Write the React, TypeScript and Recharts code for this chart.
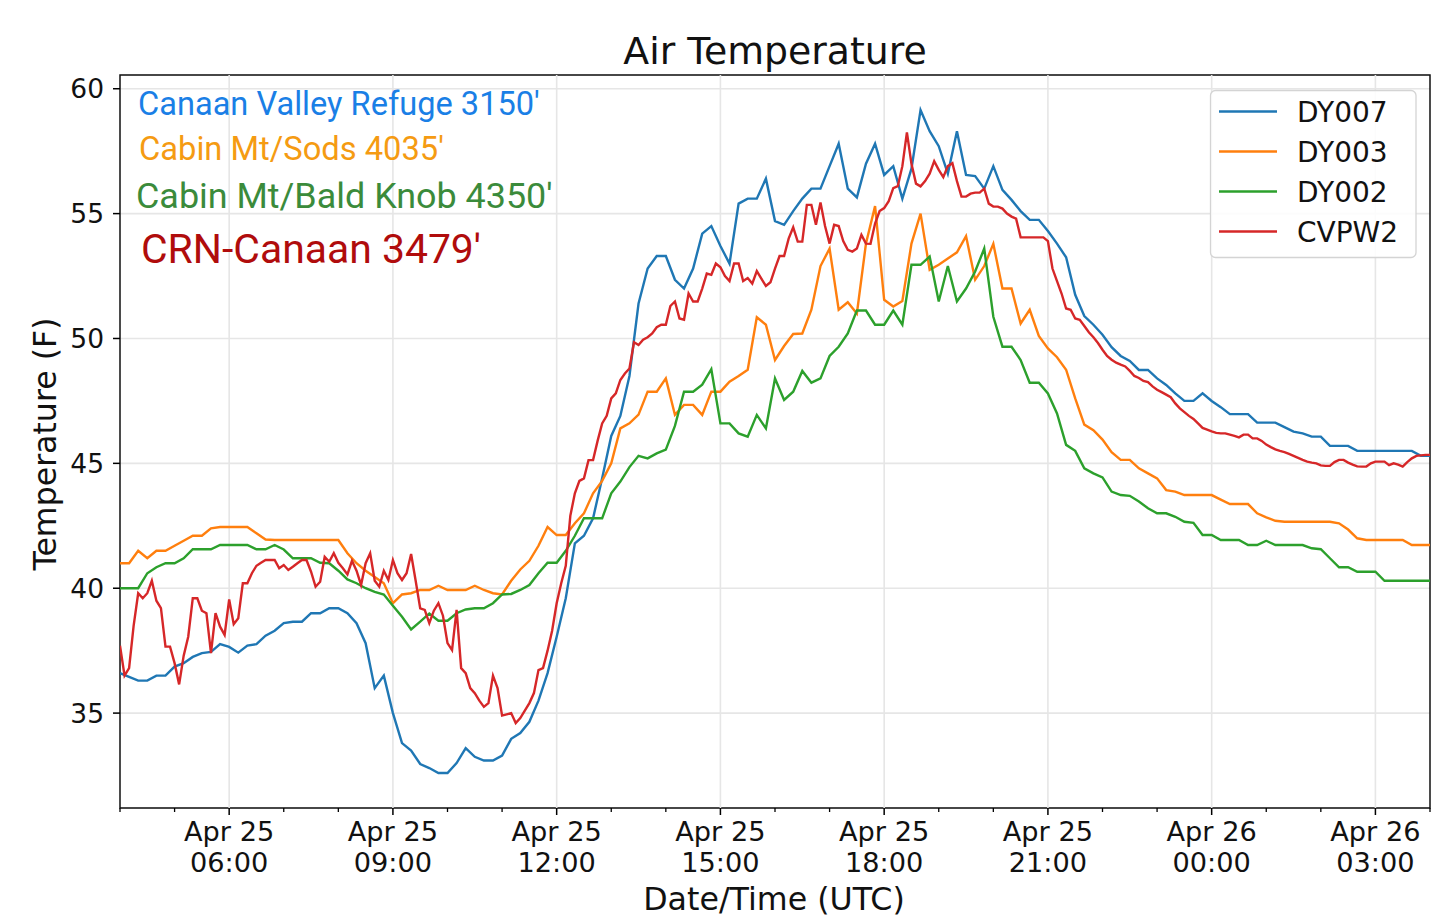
import React from 'react';
import {
  LineChart,
  Line,
  XAxis,
  YAxis,
  CartesianGrid,
  ReferenceLine,
  ReferenceArea,
} from 'recharts';

// minutes after Apr 25 04:00 UTC
const DY_STEP = 10;
const CV_STEP = 5;

// DY stations, 10-minute readings (F)
const dy007 = [
  36.6, 36.45, 36.3, 36.3, 36.5, 36.5, 36.86, 37.0, 37.25, 37.4, 37.45, 37.76, 37.65, 37.42, 37.7, 37.76,
  38.1, 38.3, 38.6, 38.66, 38.66, 39.0, 39.0, 39.2, 39.2, 39.0, 38.6, 37.8, 36.0, 36.5, 35.0, 33.8,
  33.5, 32.96, 32.8, 32.6, 32.6, 33.0, 33.6, 33.25, 33.1, 33.1, 33.3, 33.97, 34.2, 34.65, 35.5, 36.6,
  38.06, 39.6, 41.8, 42.1, 42.8, 44.4, 46.1, 46.9, 48.5, 51.4, 52.8, 53.3, 53.3, 52.35, 52.0, 52.8,
  54.2, 54.5, 53.7, 53.0, 55.4, 55.6, 55.6, 56.4, 54.7, 54.55, 55.1, 55.6, 56.0, 56.0, 56.9, 57.8,
  56.0, 55.65, 57.0, 57.8, 56.55, 56.9, 55.6, 56.8, 59.15, 58.3, 57.7, 56.6, 58.3, 56.55, 56.5, 56.0,
  56.9, 55.95, 55.55, 55.1, 54.75, 54.75, 54.3, 53.8, 53.25, 51.75, 50.9, 50.55, 50.15, 49.65, 49.3, 49.1,
  48.74, 48.74, 48.4, 48.14, 47.8, 47.5, 47.5, 47.8, 47.5, 47.25, 46.97, 46.97, 46.97, 46.63, 46.63, 46.63,
  46.45, 46.27, 46.2, 46.07, 46.07, 45.7, 45.7, 45.7, 45.5, 45.5, 45.5, 45.5, 45.5, 45.5, 45.5, 45.3,
  45.3,
];

const dy003 = [
  41.0, 41.0, 41.5, 41.2, 41.5, 41.5, 41.7, 41.9, 42.1, 42.1, 42.4, 42.45, 42.45, 42.45, 42.45, 42.2,
  41.95, 41.93, 41.93, 41.93, 41.93, 41.93, 41.93, 41.93, 41.93, 41.4, 41.0, 40.7, 40.45, 40.2, 39.4, 39.75,
  39.8, 39.93, 39.93, 40.1, 39.93, 39.93, 39.93, 40.1, 39.93, 39.8, 39.75, 40.3, 40.75, 41.1, 41.7, 42.45,
  42.13, 42.13, 42.6, 43.0, 43.8, 44.3, 45.0, 46.4, 46.6, 46.95, 47.87, 47.87, 48.4, 46.94, 47.34, 47.34,
  46.94, 47.87, 47.87, 48.27, 48.5, 48.75, 50.85, 50.55, 49.14, 49.7, 50.18, 50.2, 51.15, 52.9, 53.6, 51.15,
  51.45, 51.0, 53.8, 55.3, 51.55, 51.28, 51.5, 53.8, 55.0, 52.75, 52.95, 53.2, 53.45, 54.1, 52.35, 52.9,
  53.79, 52.0, 52.0, 50.6, 51.15, 50.1, 49.6, 49.25, 48.75, 47.6, 46.55, 46.33, 45.95, 45.45, 45.14, 45.14,
  44.8, 44.6, 44.4, 43.93, 43.87, 43.73, 43.73, 43.73, 43.73, 43.55, 43.37, 43.37, 43.37, 43.0, 42.84, 42.7,
  42.66, 42.66, 42.66, 42.66, 42.66, 42.66, 42.6, 42.35, 42.0, 41.93, 41.93, 41.93, 41.93, 41.93, 41.73, 41.73,
  41.73,
];

const dy002 = [
  40.0, 40.0, 40.0, 40.6, 40.84, 41.0, 41.0, 41.2, 41.56, 41.56, 41.56, 41.73, 41.73, 41.73, 41.73, 41.56,
  41.56, 41.73, 41.55, 41.2, 41.2, 41.2, 41.02, 41.0, 40.7, 40.35, 40.2, 40.0, 39.85, 39.75, 39.3, 38.86,
  38.35, 38.66, 38.99, 38.7, 38.7, 39.0, 39.15, 39.2, 39.2, 39.4, 39.75, 39.77, 39.93, 40.13, 40.6, 41.02,
  41.02, 41.5, 42.1, 42.8, 42.8, 42.8, 43.8, 44.27, 44.85, 45.3, 45.2, 45.4, 45.55, 46.5, 47.87, 47.87,
  48.15, 48.77, 46.6, 46.6, 46.2, 46.07, 46.94, 46.4, 48.4, 47.54, 47.87, 48.7, 48.23, 48.4, 49.3, 49.67,
  50.2, 51.12, 51.12, 50.55, 50.55, 51.12, 50.55, 52.95, 52.95, 53.28, 51.48, 52.9, 51.48, 52.0, 52.68, 53.6,
  50.87, 49.67, 49.67, 49.14, 48.23, 48.23, 47.8, 47.0, 45.74, 45.5, 44.8, 44.6, 44.44, 43.87, 43.73, 43.7,
  43.47, 43.2, 43.0, 43.0, 42.86, 42.66, 42.62, 42.13, 42.13, 41.93, 41.93, 41.93, 41.73, 41.73, 41.9, 41.73,
  41.73, 41.73, 41.73, 41.6, 41.56, 41.2, 40.84, 40.84, 40.66, 40.66, 40.66, 40.3, 40.3, 40.3, 40.3, 40.3,
  40.3,
];

// CRN station, 5-minute readings (F)
const cvpw2 = [
  37.7, 36.5, 36.8, 38.5, 39.8, 39.6, 39.8, 40.3, 39.5, 39.2,
  37.66, 37.66, 37.0, 36.15, 37.3, 38.06, 39.6, 39.6, 39.1, 39.0,
  37.4, 39.0, 38.46, 38.13, 39.55, 38.56, 38.8, 40.2, 40.2, 40.6,
  40.9, 41.02, 41.13, 41.13, 41.13, 40.8, 40.93, 40.73, 40.86, 41.0,
  41.13, 41.13, 40.66, 40.06, 40.26, 41.26, 41.06, 41.4, 41.02, 40.8,
  40.55, 41.1, 40.7, 40.13, 41.0, 41.4, 40.3, 40.06, 40.7, 40.33,
  41.13, 40.6, 40.33, 40.6, 41.37, 40.3, 39.19, 39.13, 38.6, 39.1,
  39.4, 38.9, 37.8, 37.52, 39.13, 36.8, 36.6, 36.0, 35.8, 35.5,
  35.25, 35.4, 36.5, 36.0, 34.9, 34.95, 35.0, 34.6, 34.8, 35.1,
  35.4, 35.8, 36.72, 36.8, 37.5, 38.3, 39.4, 40.2, 40.9, 42.9,
  43.8, 44.3, 44.4, 45.13, 45.13, 45.9, 46.6, 46.9, 47.6, 47.8,
  48.34, 48.6, 48.8, 49.85, 49.74, 49.95, 50.05, 50.2, 50.45, 50.55,
  50.55, 51.3, 51.48, 50.8, 50.75, 51.8, 51.48, 51.48, 52.0, 52.6,
  52.55, 53.0, 52.85, 52.5, 52.3, 53.0, 53.0, 52.3, 52.42, 52.2,
  52.7, 52.4, 52.1, 52.25, 52.8, 53.3, 53.3, 54.0, 54.45, 53.88,
  53.88, 55.35, 55.35, 54.55, 55.45, 54.5, 53.8, 54.55, 54.5, 53.9,
  53.55, 53.48, 53.6, 54.15, 53.8, 53.79, 54.6, 55.1, 55.22, 55.5,
  56.02, 56.1, 56.9, 58.25, 57.0, 56.2, 56.09, 56.3, 56.6, 57.1,
  56.75, 56.46, 56.9, 57.02, 56.3, 55.68, 55.68, 55.8, 55.84, 55.84,
  56.0, 55.4, 55.28, 55.28, 55.2, 55.0, 54.88, 54.8, 54.05, 54.05,
  54.05, 54.05, 54.05, 54.05, 53.9, 52.8, 52.3, 51.8, 51.2, 51.15,
  50.8, 50.75, 50.5, 50.25, 50.05, 49.82, 49.55, 49.3, 49.15, 49.03,
  48.95, 48.88, 48.7, 48.5, 48.42, 48.3, 48.25, 48.08, 47.95, 47.85,
  47.75, 47.65, 47.4, 47.2, 47.05, 46.9, 46.78, 46.6, 46.42, 46.35,
  46.28, 46.22, 46.2, 46.2, 46.15, 46.1, 46.04, 46.15, 46.15, 46.0,
  46.0, 45.9, 45.75, 45.65, 45.56, 45.5, 45.45, 45.38, 45.3, 45.22,
  45.14, 45.07, 45.03, 45.0, 44.92, 44.9, 44.9, 45.05, 45.14, 45.14,
  45.03, 44.95, 44.88, 44.87, 44.87, 45.0, 45.07, 45.07, 45.07, 44.93,
  45.0, 44.95, 44.87, 45.05, 45.2, 45.3, 45.32, 45.34, 45.34,
];

// axis ticks
const hourTicks = [
  0, 60, 120, 180, 240, 300, 360, 420, 480, 540, 600, 660, 720, 780, 840, 900, 960, 1020, 1080, 1140, 1200,
  1260, 1320, 1380, 1440,
];
const majorTicks = [120, 300, 480, 660, 840, 1020, 1200, 1380];
const tickDays = ['Apr 25', 'Apr 25', 'Apr 25', 'Apr 25', 'Apr 25', 'Apr 25', 'Apr 26', 'Apr 26'];
const tickTimes = ['06:00', '09:00', '12:00', '15:00', '18:00', '21:00', '00:00', '03:00'];
const yTicks = [35, 40, 45, 50, 55, 60];

const seriesNames = ['DY007', 'DY003', 'DY002', 'CVPW2'];
const seriesColors = ['#1f77b4', '#ff7f0e', '#2ca02c', '#d62728'];

const stationLabels = ["Canaan Valley Refuge 3150'", "Cabin Mt/Sods 4035'", "Cabin Mt/Bald Knob 4350'", "CRN-Canaan 3479'"];
const stationColors = ['#1a7fe6', '#f59b12', '#3b8b3b', '#b00c0c'];

const W = 1434;
const H = 922;
const X_MIN = 0;
const X_MAX = 1440;
const Y_MIN = 31.2;
const Y_MAX = 60.55;

const toRows = (vals: number[], step: number) => vals.map((v, i) => ({ t: i * step, v }));

const dySeries = [dy007, dy003, dy002].map((s) => toRows(s, DY_STEP));
const cvSeries = toRows(cvpw2, CV_STEP);
const allSeries = [...dySeries, cvSeries];

const FONT = '"DejaVu Sans", sans-serif';

const TimeTick = (props: any) => {
  const { x, y, payload } = props;
  const k = majorTicks.indexOf(payload.value);
  if (k < 0) {
    return <line x1={x} x2={x} y1={y} y2={y + 4} stroke="#000" strokeWidth={1.3} />;
  }
  return (
    <g>
      <line x1={x} x2={x} y1={y} y2={y + 7} stroke="#000" strokeWidth={1.5} />
      <text x={x} y={y + 33} textAnchor="middle" fontFamily={FONT} fontSize={27.2} fill="#111">
        {tickDays[k]}
      </text>
      <text x={x} y={y + 64} textAnchor="middle" fontFamily={FONT} fontSize={27.2} fill="#111">
        {tickTimes[k]}
      </text>
    </g>
  );
};

export default function App() {
  return (
    <div style={{ position: 'absolute', left: 0, top: 0, width: W, height: H, background: '#fff' }}>
      <LineChart width={W} height={H} margin={{ top: 75, right: 4, bottom: 0, left: 0 }}>
        <CartesianGrid vertical={false} stroke="#e6e6e6" strokeWidth={1.6} />
        {majorTicks.map((m) => (
          <ReferenceLine key={m} x={m} stroke="#e6e6e6" strokeWidth={1.6} />
        ))}
        <XAxis
          type="number"
          dataKey="t"
          domain={[X_MIN, X_MAX]}
          ticks={hourTicks}
          interval={0}
          height={114}
          axisLine={false}
          tickLine={false}
          tickSize={0}
          tickMargin={0}
          tick={<TimeTick />}
          allowDataOverflow
        />
        <YAxis
          type="number"
          domain={[Y_MIN, Y_MAX]}
          ticks={yTicks}
          width={120}
          axisLine={false}
          tickSize={7}
          tickMargin={9}
          tickLine={{ stroke: '#000', strokeWidth: 1.5 }}
          tick={{ fontFamily: FONT, fontSize: 26.5, fill: '#111' }}
          allowDataOverflow
        />
        {allSeries.map((rows, k) => (
          <Line
            key={seriesNames[k]}
            data={rows}
            dataKey="v"
            name={seriesNames[k]}
            type="linear"
            stroke={seriesColors[k]}
            strokeWidth={2.4}
            dot={false}
            activeDot={false}
            isAnimationActive={false}
          />
        ))}
        <ReferenceArea
          x1={X_MIN}
          x2={X_MAX}
          y1={Y_MIN}
          y2={Y_MAX}
          fill="none"
          fillOpacity={0}
          stroke="#111"
          strokeWidth={1.5}
        />
      </LineChart>

      <svg
        width={W}
        height={H}
        style={{ position: 'absolute', left: 0, top: 0, pointerEvents: 'none' }}
      >
        <text x={775} y={64} textAnchor="middle" fontFamily={FONT} fontSize={37.8} fill="#111">
          Air Temperature
        </text>
        <text x={774} y={910} textAnchor="middle" fontFamily={FONT} fontSize={31.7} fill="#111">
          Date/Time (UTC)
        </text>
        <text
          x={0}
          y={0}
          transform="translate(56 444) rotate(-90)"
          textAnchor="middle"
          fontFamily={FONT}
          fontSize={31.6}
          fill="#111"
        >
          Temperature (F)
        </text>

        {stationLabels.map((s, k) => (
          <text
            key={s}
            x={[138, 139, 136, 141][k]}
            y={[115, 160, 208, 263][k]}
            fontFamily="Roboto, sans-serif"
            fontSize={[32.6, 32.7, 35.9, 40.9][k]}
            fill={stationColors[k]}
          >
            {s}
          </text>
        ))}

        <rect x={1210.5} y={90.5} width={205.5} height={167} rx={5} fill="#fff" fillOpacity={0.85} stroke="#d4d4d4" strokeWidth={1.3} />
        {seriesNames.map((n, k) => (
          <g key={n}>
            <line x1={1219} x2={1277} y1={111.5 + k * 40} y2={111.5 + k * 40} stroke={seriesColors[k]} strokeWidth={2.4} />
            <text x={1297} y={121.5 + k * 40} fontFamily={FONT} fontSize={28} fill="#111">
              {n}
            </text>
          </g>
        ))}
      </svg>
    </div>
  );
}
